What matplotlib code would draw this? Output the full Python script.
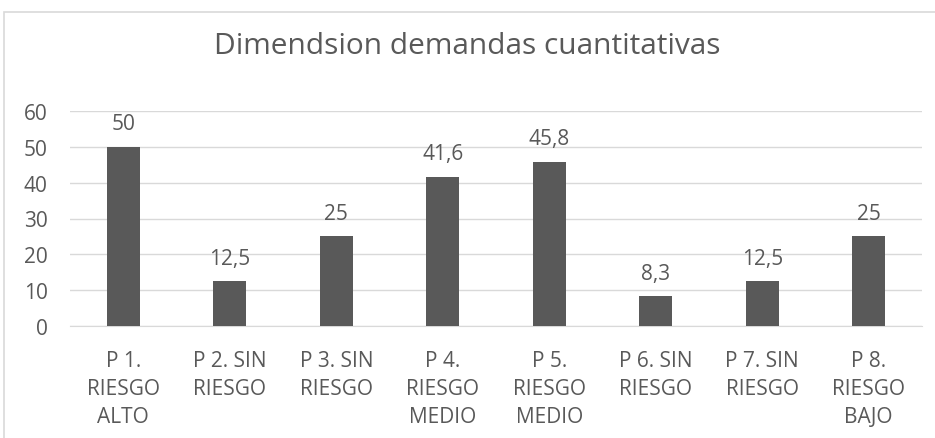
import matplotlib
matplotlib.use("Agg")
import matplotlib.pyplot as plt
from matplotlib import patches

categories = [
    "P 1.\nRIESGO\nALTO",
    "P 2. SIN\nRIESGO",
    "P 3. SIN\nRIESGO",
    "P 4.\nRIESGO\nMEDIO",
    "P 5.\nRIESGO\nMEDIO",
    "P 6. SIN\nRIESGO",
    "P 7. SIN\nRIESGO",
    "P 8.\nRIESGO\nBAJO",
]
values = [50, 12.5, 25, 41.6, 45.8, 8.3, 12.5, 25]
value_labels = ["50", "12,5", "25", "41,6", "45,8", "8,3", "12,5", "25"]
yticks = [0, 10, 20, 30, 40, 50, 60]

TEXT = "#595959"
GRID = "#d9d9d9"

plt.rcParams["font.family"] = ["Open Sans", "DejaVu Sans"]

fig = plt.figure(figsize=(9.35, 4.39), dpi=100)
ax = fig.add_axes([70 / 935, 1 - 327 / 439, 852 / 935, 215 / 439])

# chart frame (cut off on the right and bottom)
fig.patches.append(patches.Rectangle(
    (4 / 935, -0.1), 1.2, (439 - 13) / 439 + 0.1,
    transform=fig.transFigure, fill=False, edgecolor=GRID, linewidth=1.2,
))

x = range(len(categories))
bars = ax.bar(x, values, width=0.31, color="#595959", zorder=3)
for b, lab in zip(bars, value_labels):
    ax.annotate(lab, (b.get_x() + b.get_width() / 2, b.get_height()),
                xytext=(0, 9), textcoords="offset points",
                ha="center", va="bottom", fontsize=15, color=TEXT)

ax.set_ylim(0, 60)
ax.set_xlim(-0.5, len(categories) - 0.5)
ax.set_yticks(yticks)
ax.set_yticklabels([str(t) for t in yticks])
ax.yaxis.grid(True, color=GRID, linewidth=1, zorder=0)
ax.set_axisbelow(True)
ax.set_xticks(list(x))
ax.set_xticklabels(categories, linespacing=1.45)
ax.tick_params(axis="both", length=0, labelsize=15, colors=TEXT)
ax.tick_params(axis="x", pad=17)
ax.tick_params(axis="y", pad=16)
for s in ["top", "right", "left"]:
    ax.spines[s].set_visible(False)
ax.spines["bottom"].set_color(GRID)

fig.text(0.5, 1 - 47 / 439, "Dimendsion demandas cuantitativas",
         ha="center", va="center", fontsize=21.5, color=TEXT)

fig.savefig("out.png", dpi=100)
